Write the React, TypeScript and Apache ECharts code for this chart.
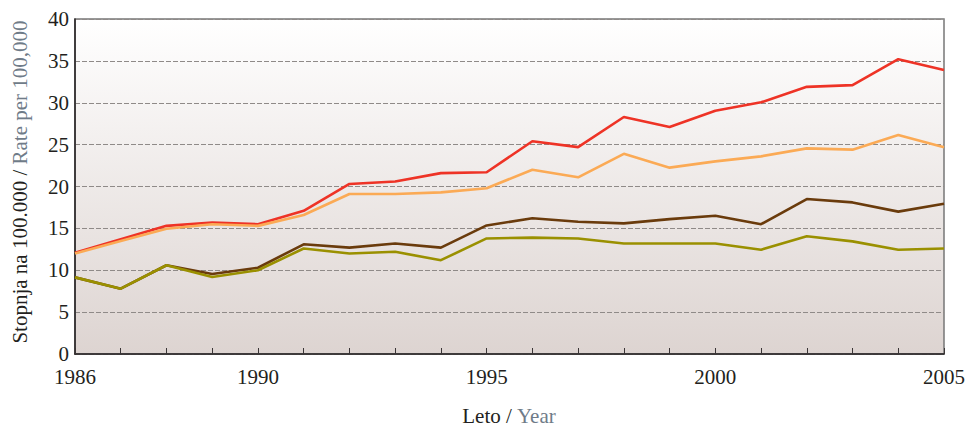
import React, { useEffect, useRef } from "react";
import * as echarts from "echarts";

const years = ["1986","1987","1988","1989","1990","1991","1992","1993","1994","1995","1996","1997","1998","1999","2000","2001","2002","2003","2004","2005"];
const labeledYears = ["1986", "1990", "1995", "2000", "2005"];

const redSeries = [12.1, 13.7, 15.3, 15.7, 15.5, 17.1, 20.3, 20.6, 21.6, 21.7, 25.4, 24.7, 28.3, 27.1, 29.05, 30.05, 31.9, 32.1, 35.2, 33.9];
const orangeSeries = [12.0, 13.5, 14.95, 15.5, 15.3, 16.6, 19.1, 19.1, 19.3, 19.8, 22.0, 21.1, 23.9, 22.25, 23.0, 23.6, 24.55, 24.4, 26.15, 24.7];
const brownSeries = [9.15, 7.8, 10.6, 9.55, 10.3, 13.1, 12.7, 13.2, 12.7, 15.35, 16.2, 15.8, 15.6, 16.1, 16.5, 15.5, 18.5, 18.1, 17.0, 17.95];
const oliveSeries = [9.15, 7.8, 10.6, 9.2, 10.0, 12.6, 12.0, 12.2, 11.2, 13.8, 13.9, 13.8, 13.2, 13.2, 13.2, 12.45, 14.05, 13.45, 12.45, 12.6];

const yNameBlack = "Stopnja na 100.000 / ";
const yNameGray = "Rate per 100,000";
const xNameBlack = "Leto / ";
const xNameGray = "Year";

const FONT = "Liberation Serif";
const FS = 21;
const BLACK = "#231f20";
const GRAY = "#6f7b88";

function measure(text: string): number {
  const c = document.createElement("canvas").getContext("2d");
  if (!c) return text.length * FS * 0.45;
  c.font = `${FS}px "${FONT}"`;
  return c.measureText(text).width;
}

export default function App() {
  const ref = useRef<HTMLDivElement>(null);
  useEffect(() => {
    if (!ref.current) return;
    const chart = echarts.init(ref.current, null, { renderer: "svg" });
    const mk = (name: string, data: number[], color: string) => ({
      name,
      type: "line",
      data,
      symbol: "none",
      lineStyle: { color, width: 2.6 },
      z: 3,
    });
    const yW1 = measure(yNameBlack);
    const yW2 = measure(yNameGray);
    const yTot = yW1 + yW2;
    const xW1 = measure(xNameBlack);
    const xW2 = measure(xNameGray);
    const xTot = xW1 + xW2;
    const txt = (text: string, x: number, fill: string) => ({
      type: "text",
      x,
      y: 0,
      style: { text, fill, font: `${FS}px "${FONT}"`, textAlign: "left", textVerticalAlign: "middle", verticalAlign: "middle" },
    });
    chart.setOption({
      animation: false,
      textStyle: { fontFamily: FONT },
      grid: {
        left: 75,
        right: 21,
        top: 19,
        bottom: 75,
        outerBoundsMode: "none",
        containLabel: false,
        show: true,
        borderColor: "#777777",
        borderWidth: 1.5,
        backgroundColor: new echarts.graphic.LinearGradient(0, 0, 0, 1, [
          { offset: 0, color: "#ffffff" },
          { offset: 1, color: "#ddd4d1" },
        ]),
      },
      graphic: [
        {
          type: "group",
          x: 20,
          y: 182,
          rotation: Math.PI / 2,
          children: [txt(yNameBlack, -yTot / 2, BLACK), txt(yNameGray, -yTot / 2 + yW1, GRAY)],
        },
        {
          type: "group",
          x: 509,
          y: 416,
          children: [txt(xNameBlack, -xTot / 2, BLACK), txt(xNameGray, -xTot / 2 + xW1, GRAY)],
        },
      ],
      xAxis: {
        type: "category",
        data: years,
        boundaryGap: false,
        axisLine: { lineStyle: { color: BLACK, width: 1.5 } },
        axisTick: { inside: true, length: 6, lineStyle: { color: "#3a3536", width: 1 }, interval: 0 },
        axisLabel: {
          interval: (_i: number, v: string) => labeledYears.includes(v),
          color: BLACK,
          fontFamily: FONT,
          fontSize: FS,
          margin: 12,
        },
        splitLine: { show: false },
      },
      yAxis: {
        type: "value",
        min: 0,
        max: 40,
        interval: 5,
        axisLine: { show: true, lineStyle: { color: BLACK, width: 1.5 } },
        axisTick: { show: false },
        axisLabel: { color: BLACK, fontFamily: FONT, fontSize: FS, margin: 6 },
        splitLine: { show: true, lineStyle: { color: "#8f8a88", type: [5, 2], width: 1 } },
      },
      series: [
        mk("red", redSeries, "#ee3326"),
        mk("orange", orangeSeries, "#fbaa55"),
        mk("brown", brownSeries, "#6a3b0c"),
        mk("olive", oliveSeries, "#9a9000"),
      ],
    });
    return () => chart.dispose();
  }, []);
  return <div ref={ref} style={{ position: "absolute", left: 0, top: 0, width: 965, height: 429 }} />;
}
